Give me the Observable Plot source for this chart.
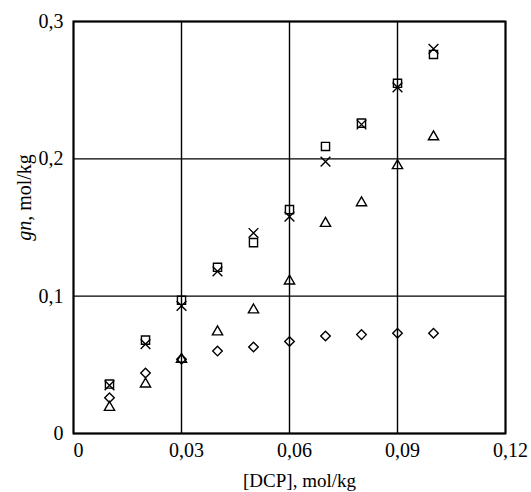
<!DOCTYPE html>
<html><head><meta charset="utf-8">
<script src="https://cdn.jsdelivr.net/npm/d3@7"></script>
<script src="https://cdn.jsdelivr.net/npm/@observablehq/plot@0.6"></script>
<style>
body{margin:0;background:#fff}
#chart svg, #chart svg text{font-family:"Liberation Serif","Times New Roman",serif !important;}
</style>
</head><body><div id="chart"></div>
<script>
const dcp       = [0.01, 0.02, 0.03, 0.04, 0.05, 0.06, 0.07, 0.08, 0.09, 0.10];
const squares   = [0.036, 0.068, 0.097, 0.121, 0.139, 0.163, 0.209, 0.226, 0.255, 0.276];
const crosses   = [0.035, 0.065, 0.093, 0.118, 0.146, 0.158, 0.198, 0.225, 0.252, 0.280];
const triangles = [0.019, 0.036, 0.054, 0.074, 0.090, 0.111, 0.153, 0.168, 0.195, 0.216];
const diamonds  = [0.026, 0.044, 0.054, 0.060, 0.063, 0.067, 0.071, 0.072, 0.073, 0.073];
const xTicks = [0, 0.03, 0.06, 0.09, 0.12];
const yTicks = [0, 0.1, 0.2, 0.3];
const xLabel = "[DCP], mol/kg";
const yLabel = "gn, mol/kg";

const fmt = d => d === 0 ? "0" : String(d).replace(".", ",");
const rows = (ys) => dcp.map((x, i) => ({x, y: ys[i]}));
const serif = "Liberation Serif";

const dotStyle = {x: "x", y: "y", stroke: "black", fill: "none", strokeWidth: 1.4};

const chart = Plot.plot({
  width: 531,
  height: 492,
  marginLeft: 73,
  marginRight: 26,
  marginTop: 21,
  marginBottom: 59,
  style: {fontSize: "20px", fontFamily: serif, background: "white", color: "black"},
  x: {domain: [0, 0.12]},
  y: {domain: [0, 0.3]},
  marks: [
    Plot.gridX(xTicks, {stroke: "black", strokeOpacity: 1, strokeWidth: 1.4}),
    Plot.gridY(yTicks, {stroke: "black", strokeOpacity: 1, strokeWidth: 1.4}),
    Plot.frame({stroke: "black", strokeWidth: 2}),
    Plot.axisX(xTicks, {tickSize: 0, tickPadding: 9, tickFormat: fmt, label: null, dx: 5, fontSize: 20, fontFamily: serif, letterSpacing: 1}),
    Plot.axisY(yTicks, {tickSize: 0, tickPadding: 10, tickFormat: fmt, label: null, fontSize: 20, fontFamily: serif, letterSpacing: 1}),
    Plot.dot(rows(diamonds), {...dotStyle, r: 4.3, symbol: "diamond2"}),
    Plot.dot(rows(triangles), {...dotStyle, r: 3.8, symbol: "triangle"}),
    Plot.dot(rows(squares), {...dotStyle, r: 4.6, symbol: "square"}),
    Plot.dot(rows(crosses), {...dotStyle, r: 4.5, symbol: "times"}),
    Plot.text([xLabel], {frameAnchor: "bottom", text: d => d, dy: 40, dx: 10, lineAnchor: "top", textAnchor: "middle", fontSize: 19, fontFamily: serif, letterSpacing: 2}),
    Plot.text([yLabel], {frameAnchor: "left", text: d => d, dx: -49, dy: -30, rotate: -90, textAnchor: "middle", lineAnchor: "middle", fontSize: 20, fontFamily: serif, letterSpacing: 1})
  ]
});
document.getElementById("chart").appendChild(chart);

// italicize "gn" in the y label
d3.select(chart).selectAll("text").each(function() {
  if (this.textContent === yLabel) {
    const t = d3.select(this);
    t.text(null);
    t.append("tspan").attr("font-style", "italic").text("gn");
    t.append("tspan").text(", mol/kg");
  }
});
</script>
</body></html>
